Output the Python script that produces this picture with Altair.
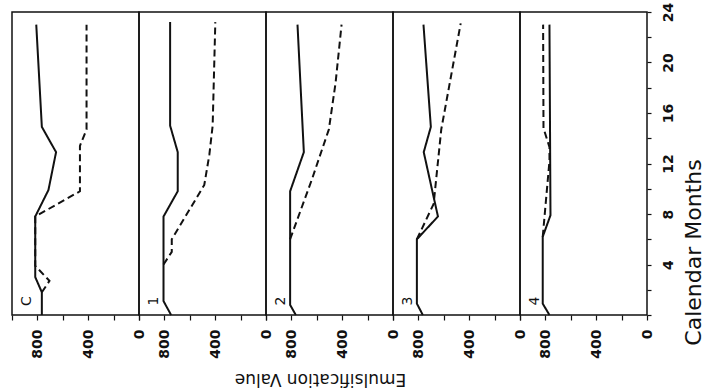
import altair as alt
import pandas as pd

panels = ["C", "1", "2", "3", "4"]

# Calendar months / emulsification values
c_solid_months = [0, 1.8, 3.0, 7.8, 9.9, 12.9, 14.9, 23.0]
c_solid_values = [765, 765, 817, 817, 713, 653, 765, 809]
c_dashed_months = [1.8, 2.7, 3.9, 7.8, 9.8, 13.4, 14.7, 23.0]
c_dashed_values = [765, 705, 817, 817, 465, 465, 413, 413]

p1_solid_months = [0, 1.1, 7.8, 9.8, 12.9, 15.0, 23.2]
p1_solid_values = [747, 807, 807, 695, 695, 755, 755]
p1_dashed_months = [4.0, 5.0, 6.0, 10.3, 12.7, 15.0, 23.2]
p1_dashed_values = [807, 742, 742, 486, 446, 420, 399]

p2_solid_months = [0, 0.8, 9.8, 12.9, 23.0]
p2_solid_values = [765, 810, 810, 702, 752]
p2_dashed_months = [6.0, 10.7, 14.7, 18.4, 23.0]
p2_dashed_values = [810, 640, 505, 452, 405]

p3_solid_months = [0, 0.9, 6.0, 7.8, 12.9, 14.9, 23.0]
p3_solid_values = [765, 812, 812, 646, 758, 702, 760]
p3_dashed_months = [6.0, 8.8, 14.7, 23.1]
p3_dashed_values = [812, 680, 620, 467]

p4_solid_months = [0, 0.9, 6.2, 7.9, 23.0]
p4_solid_values = [768, 821, 821, 760, 768]
p4_dashed_months = [6.2, 12.2, 13.3, 14.8, 23.0]
p4_dashed_values = [821, 768, 768, 815, 818]

series_table = [
    ("C", "solid", c_solid_months, c_solid_values),
    ("C", "dashed", c_dashed_months, c_dashed_values),
    ("1", "solid", p1_solid_months, p1_solid_values),
    ("1", "dashed", p1_dashed_months, p1_dashed_values),
    ("2", "solid", p2_solid_months, p2_solid_values),
    ("2", "dashed", p2_dashed_months, p2_dashed_values),
    ("3", "solid", p3_solid_months, p3_solid_values),
    ("3", "dashed", p3_dashed_months, p3_dashed_values),
    ("4", "solid", p4_solid_months, p4_solid_values),
    ("4", "dashed", p4_dashed_months, p4_dashed_values),
]

rows = []
for panel, series, months, values in series_table:
    for m, v in zip(months, values):
        rows.append({"panel": panel, "series": series, "month": m, "value": v})
df = pd.DataFrame(rows)

value_ticks = [0, 200, 400, 600, 800, 1000]
month_ticks = list(range(0, 25, 2))

INK = "#111111"
FONT = "DejaVu Sans"


def make_panel(i, name):
    x_axis_kwargs = dict(
        values=value_ticks,
        labelExpr="datum.value == 800 || datum.value == 400 || datum.value == 0 ? datum.label : ''",
        labelAngle=270,
        labelAlign="right",
        labelBaseline="middle",
        labelPadding=9,
        labelFlush=False,
        labelOverlap=False,
        labelFont=FONT,
        labelFontSize=14,
        labelFontWeight="bold",
        labelColor=INK,
        tickSize=5,
        tickWidth=1.2,
        tickColor=INK,
        domain=False,
        grid=False,
        title="",
    )
    if i == 2:
        x_axis_kwargs.update(
            title="Emulsification Value",
            titleAngle=180,
            titleAlign="center",
            titleBaseline="middle",
            titleX=54,
            titleY=63,
            titleFont=FONT,
            titleFontSize=17,
            titleFontWeight="normal",
            titleColor=INK,
        )
    x_enc = alt.X(
        "value:Q",
        scale=alt.Scale(domain=[0, 1000], reverse=True, nice=False, zero=False),
        axis=alt.Axis(**x_axis_kwargs),
    )
    if i == len(panels) - 1:
        y_axis = alt.Axis(
            orient="right",
            values=month_ticks,
            labelExpr="datum.value % 4 == 0 && datum.value > 0 ? datum.label : ''",
            labelAngle=270,
            labelAlign="center",
            labelBaseline="top",
            labelPadding=10,
            labelOverlap=False,
            labelFont=FONT,
            labelFontSize=14,
            labelFontWeight="bold",
            labelColor=INK,
            tickSize=4,
            tickWidth=1.2,
            tickColor=INK,
            domain=False,
            grid=False,
            title="Calendar Months",
            titleAngle=270,
            titleAlign="center",
            titleBaseline="middle",
            titleX=46,
            titleY=240,
            titleFont=FONT,
            titleFontSize=22,
            titleFontWeight="normal",
            titleColor=INK,
        )
        y_enc = alt.Y("month:Q", scale=alt.Scale(domain=[0, 24], nice=False), axis=y_axis)
    else:
        y_enc = alt.Y("month:Q", scale=alt.Scale(domain=[0, 24], nice=False), axis=None)

    lines = (
        alt.Chart(df)
        .transform_filter(alt.datum.panel == name)
        .mark_line(color=INK, strokeWidth=2)
        .encode(
            x=x_enc,
            y=y_enc,
            strokeDash=alt.StrokeDash(
                "series:N",
                scale=alt.Scale(domain=["solid", "dashed"], range=[[1, 0], [7, 4]]),
                legend=None,
            ),
            order="month:Q",
        )
    )
    label = (
        alt.Chart(pd.DataFrame({"label": [name]}))
        .mark_text(angle=270, font=FONT, fontSize=14, color=INK, align="center", baseline="middle")
        .encode(text="label:N", x=alt.value(15), y=alt.value(289))
    )
    return alt.layer(lines, label).properties(width=127, height=303)


chart = (
    alt.hconcat(*[make_panel(i, p) for i, p in enumerate(panels)], spacing=0, bounds="flush")
    .properties(
        padding={"left": 4, "top": 1, "right": 0, "bottom": 0},
        background="white",
    )
    .configure_view(stroke=INK, strokeWidth=1.5)
)

chart.save("out.html", embed_options={"renderer": "svg", "actions": False})
